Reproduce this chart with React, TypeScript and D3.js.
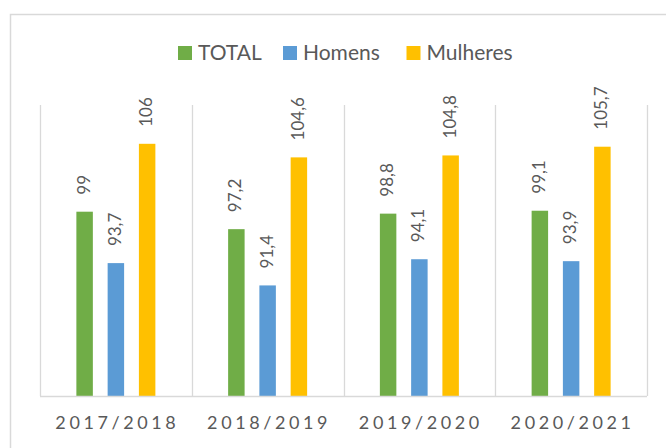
import * as d3 from "d3";
import { useEffect, useRef } from "react";

const categories = ["2017/2018", "2018/2019", "2019/2020", "2020/2021"];
const seriesNames = ["TOTAL", "Homens", "Mulheres"];
const totalValues = [99, 97.2, 98.8, 99.1];
const homensValues = [93.7, 91.4, 94.1, 93.9];
const mulheresValues = [106, 104.6, 104.8, 105.7];
const colors = ["#70AD47", "#5B9BD5", "#FFC000"];

const W = 666;
const H = 448;
const margin = { left: 40, right: 19, top: 105, bottom: 52 };
const FONT = "Lato, 'Liberation Sans', Arial, sans-serif";

const App = () => {
  const svgRef = useRef<SVGSVGElement>(null);

  useEffect(() => {
    const svgEl = d3.select(svgRef.current);
    svgEl.selectAll("*").remove();

    const valuesBySeries = [totalValues, homensValues, mulheresValues];
    const rows = categories.map((c, i) => ({
      cat: c,
      vals: seriesNames.map((s, j) => ({ name: s, value: valuesBySeries[j][i], color: colors[j] })),
    }));

    // outer chart border (cut off on the right and bottom in the original)
    svgEl
      .append("rect")
      .attr("x", 10.5)
      .attr("y", 14.5)
      .attr("width", 700)
      .attr("height", 500)
      .attr("fill", "white")
      .attr("stroke", "#D9D9D9")
      .attr("stroke-width", 1.5);

    const x0 = d3
      .scaleBand()
      .domain(categories)
      .range([margin.left, W - margin.right]);
    const x1 = d3
      .scaleBand()
      .domain(seriesNames)
      .range([-39.5, 39.5])
      .paddingInner(0.473);
    const y = d3
      .scaleLinear()
      .domain([80, 110])
      .range([H - margin.bottom, margin.top]);

    // vertical separators
    const seps = d3.range(categories.length + 1).map((i) => margin.left + i * x0.step());
    svgEl
      .append("g")
      .selectAll("line")
      .data(seps)
      .join("line")
      .attr("x1", (d) => Math.round(d) + 0.5)
      .attr("x2", (d) => Math.round(d) + 0.5)
      .attr("y1", y(110))
      .attr("y2", y(80))
      .attr("stroke", "#D9D9D9")
      .attr("stroke-width", 1.3);

    // bars
    const groups = svgEl
      .append("g")
      .selectAll("g")
      .data(rows)
      .join("g")
      .attr("transform", (d) => `translate(${x0(d.cat)! + x0.bandwidth() / 2},0)`);

    groups
      .selectAll("rect")
      .data((d) => d.vals)
      .join("rect")
      .attr("x", (d) => x1(d.name)!)
      .attr("width", x1.bandwidth())
      .attr("y", (d) => y(d.value))
      .attr("height", (d) => y(80) - y(d.value))
      .attr("fill", (d) => d.color);

    groups
      .selectAll("text")
      .data((d) => d.vals)
      .join("text")
      .attr("transform", (d) => `translate(${x1(d.name)! + x1.bandwidth() / 2 - 1},${y(d.value) - 17}) rotate(-90)`)
      .attr("dy", "0.35em")
      .attr("text-anchor", "start")
      .attr("font-family", FONT)
      .attr("font-size", 17)
      .attr("fill", "#595959")
      .text((d) => String(d.value).replace(".", ","));

    // x axis line
    svgEl
      .append("line")
      .attr("x1", margin.left)
      .attr("x2", W - margin.right)
      .attr("y1", y(80) + 0.5)
      .attr("y2", y(80) + 0.5)
      .attr("stroke", "#D9D9D9")
      .attr("stroke-width", 1.3);

    // category labels
    svgEl
      .append("g")
      .selectAll("text")
      .data(categories)
      .join("text")
      .attr("x", (d) => x0(d)! + x0.bandwidth() / 2 + 1.5)
      .attr("y", 429)
      .attr("text-anchor", "middle")
      .attr("font-family", FONT)
      .attr("font-size", 18)
      .attr("letter-spacing", 3.6)
      .attr("fill", "#595959")
      .text((d) => d);

    // legend
    const legendX = [178, 283, 406.5];
    const legend = svgEl
      .append("g")
      .selectAll("g")
      .data(seriesNames)
      .join("g")
      .attr("transform", (d, i) => `translate(${legendX[i]},46)`);
    legend
      .append("rect")
      .attr("width", 14)
      .attr("height", 14)
      .attr("fill", (d, i) => colors[i]);
    legend
      .append("text")
      .attr("x", 20)
      .attr("y", 14)
      .attr("font-family", FONT)
      .attr("font-size", 21)
      .attr("fill", "#595959")
      .text((d) => d);
  }, []);

  return (
    <div style={{ position: "absolute", left: 0, top: 0 }}>
      <svg ref={svgRef} width={W} height={H} style={{ display: "block" }}></svg>
    </div>
  );
};

export default App;
